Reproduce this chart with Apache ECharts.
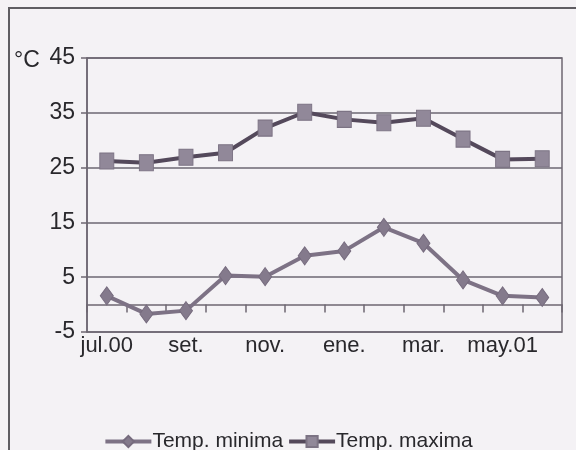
<!DOCTYPE html>
<html>
<head>
<meta charset="utf-8">
<script src="https://cdn.jsdelivr.net/npm/echarts@6/dist/echarts.min.js"></script>
<style>
html,body{margin:0;padding:0;background:#f4f2f5;}
#chart{width:576px;height:450px;}
</style>
</head>
<body>
<div id="chart"></div>
<script>
var months = ['jul.00','ago.','set.','oct.','nov.','dic.','ene.','feb.','mar.','abr.','may.01','jun.'];
var shownLabels = ['jul.00','set.','nov.','ene.','mar.','may.01'];
var tempMin = [1.6, -1.7, -1.1, 5.3, 5.1, 8.9, 9.8, 14.1, 11.2, 4.5, 1.6, 1.3];
var tempMax = [26.2, 25.9, 26.9, 27.7, 32.2, 35.1, 33.8, 33.2, 34.0, 30.2, 26.5, 26.6];
var yTicks = [-5, 5, 15, 25, 35, 45];
var seriesNames = ['Temp. minima', 'Temp. maxima'];
var unitLabel = '°C';

var FONT = "'Liberation Sans Narrow', 'Arial Narrow', 'Liberation Sans', Arial, sans-serif";
var TXT = '#29282c';
var GRIDC = '#6d6772';

var chart = echarts.init(document.getElementById('chart'), null, {renderer: 'canvas'});
chart.setOption({
  backgroundColor: '#f4f2f5',
  animation: false,
  graphic: [{
    type: 'rect',
    shape: {x: 9, y: 8, width: 800, height: 800},
    style: {fill: 'none', stroke: '#5f5d62', lineWidth: 2},
    silent: true
  }],
  title: {
    text: unitLabel, left: 9, top: 44,
    textStyle: {fontFamily: FONT, fontSize: 23, fontWeight: 'normal', color: TXT}
  },
  grid: {left: 87, right: 14, top: 58, bottom: 118, show: true, borderColor: GRIDC, borderWidth: 1.5, backgroundColor: 'transparent'},
  legend: {
    data: seriesNames, left: 'center', top: 426,
    itemWidth: 46, itemHeight: 14, itemGap: 4,
    lineStyle: {width: 4},
    textStyle: {fontFamily: FONT, fontSize: 21, color: TXT, padding: [0, 0, 0, -4]}
  },
  xAxis: [{
    type: 'category', data: months, position: 'bottom', boundaryGap: true,
    axisLine: {show: false, onZero: false},
    axisTick: {show: false},
    axisLabel: {
      interval: 0, margin: 3, fontFamily: FONT, fontSize: 22, color: TXT,
      formatter: function (v) { return shownLabels.indexOf(v) >= 0 ? v : ''; }
    },
    splitLine: {show: false}
  }, {
    type: 'category', data: months, position: 'top', boundaryGap: true,
    axisLine: {show: true, onZero: true, lineStyle: {color: GRIDC, width: 1.5}},
    axisTick: {show: true, inside: true, length: 8, interval: 0, lineStyle: {color: GRIDC, width: 1.5}},
    axisLabel: {show: false},
    splitLine: {show: false}
  }],
  yAxis: {
    type: 'value', min: -5, max: 45,
    axisLine: {show: true, lineStyle: {color: GRIDC, width: 1.5}},
    axisTick: {show: true, length: 6, customValues: yTicks, lineStyle: {color: GRIDC, width: 1.5}},
    axisLabel: {customValues: yTicks, margin: 12, fontFamily: FONT, fontSize: 23, color: TXT},
    splitLine: {show: true, lineStyle: {color: GRIDC, width: 1.5}}
  },
  series: [{
    name: seriesNames[0], type: 'line', data: tempMin, xAxisIndex: 0,
    symbol: 'diamond', symbolSize: [13, 18], showAllSymbol: true,
    lineStyle: {color: '#7d7285', width: 4},
    itemStyle: {color: '#847a8c', borderColor: '#766b7e', borderWidth: 1}
  }, {
    name: seriesNames[1], type: 'line', data: tempMax, xAxisIndex: 0,
    symbol: 'rect', symbolSize: [14, 16], showAllSymbol: true,
    lineStyle: {color: '#54495b', width: 4},
    itemStyle: {color: '#918899', borderColor: '#7c7384', borderWidth: 1}
  }]
});
</script>
</body>
</html>
